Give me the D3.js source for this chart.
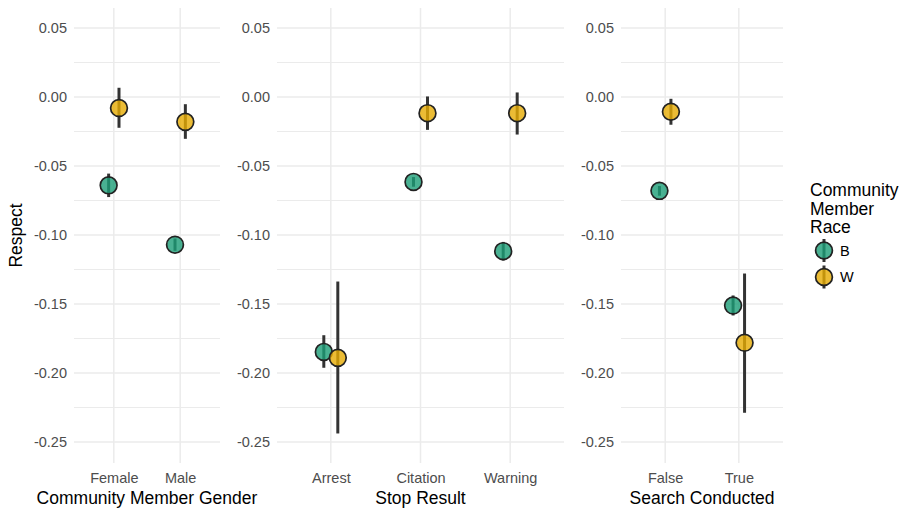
<!DOCTYPE html>
<html>
<head>
<meta charset="utf-8">
<script src="https://cdn.jsdelivr.net/npm/d3@7"></script>
<style>
  body { margin: 0; background: #fff; }
  svg { font-family: "Liberation Sans", Arial, sans-serif; }
</style>
</head>
<body>
<svg width="900" height="508"></svg>
<script>
// categories
const races = ["B", "W"];
const genderCats = ["Female", "Male"];
const stopCats = ["Arrest", "Citation", "Warning"];
const searchCats = ["False", "True"];
const yTicks = [0.05, 0.00, -0.05, -0.10, -0.15, -0.20, -0.25];
const yMinor = [0.025, -0.025, -0.075, -0.125, -0.175, -0.225];

// rows: [category, race, estimate, low, high]
const genderRows = [
  ["Female", "B", -0.064, -0.0725, -0.0555],
  ["Female", "W", -0.008, -0.0223, 0.0067],
  ["Male",   "B", -0.107, -0.1115, -0.1025],
  ["Male",   "W", -0.018, -0.0303, -0.0052]
];
const stopRows = [
  ["Arrest",   "B", -0.1847, -0.1962, -0.1726],
  ["Arrest",   "W", -0.189,  -0.2438, -0.1337],
  ["Citation", "B", -0.0615, -0.065,  -0.058],
  ["Citation", "W", -0.0117, -0.0238, 0.0004],
  ["Warning",  "B", -0.1117, -0.1185, -0.105],
  ["Warning",  "W", -0.0117, -0.0272, 0.0033]
];
const searchRows = [
  ["False", "B", -0.068,  -0.0715, -0.0645],
  ["False", "W", -0.0107, -0.0201, -0.0013],
  ["True",  "B", -0.1511, -0.1583, -0.1438],
  ["True",  "W", -0.1781, -0.2288, -0.1279]
];

const colors = {B: "#1b9e77", W: "#e6ab02"};

const svg = d3.select("svg");
const yTop = 8, yBottom = 463;
const tickFont = 14.5, titleFont = 17.5;

const y = d3.scaleLinear().domain([-0.2652, 0.0645]).range([yBottom, yTop]);

// panel layout
const panels = [
  {x0: 74,  x1: 220, cats: genderCats, rows: genderRows, title: "Community Member Gender"},
  {x0: 277, x1: 564, cats: stopCats,   rows: stopRows,   title: "Stop Result"},
  {x0: 621, x1: 783, cats: searchCats, rows: searchRows, title: "Search Conducted"}
];

panels.forEach(p => {
  const x = d3.scalePoint().domain(p.cats).range([p.x0, p.x1]).padding(0.6);
  const dodge = d3.scalePoint().domain(races).range([-0.078, 0.078]);
  const g = svg.append("g");

  // grid
  g.selectAll(".minor").data(yMinor).join("line")
    .attr("x1", p.x0).attr("x2", p.x1)
    .attr("y1", d => y(d)).attr("y2", d => y(d))
    .attr("stroke", "#ebebeb").attr("stroke-width", 1);
  g.selectAll(".major").data(yTicks).join("line")
    .attr("x1", p.x0).attr("x2", p.x1)
    .attr("y1", d => y(d)).attr("y2", d => y(d))
    .attr("stroke", "#ebebeb").attr("stroke-width", 1.5);
  g.selectAll(".vgrid").data(p.cats).join("line")
    .attr("x1", d => x(d)).attr("x2", d => x(d))
    .attr("y1", yTop).attr("y2", yBottom)
    .attr("stroke", "#ebebeb").attr("stroke-width", 1.5);

  // y axis
  const ya = g.append("g")
    .attr("transform", `translate(${p.x0 - 4},0)`)
    .call(d3.axisLeft(y).tickValues(yTicks).tickSize(0).tickFormat(d => d.toFixed(2)));
  ya.select(".domain").remove();
  ya.selectAll("text").attr("fill", "#4d4d4d").attr("font-size", tickFont)
    .attr("font-family", "Liberation Sans, Arial, sans-serif");

  // x axis
  const xa = g.append("g")
    .attr("transform", `translate(0,${yBottom})`)
    .call(d3.axisBottom(x).tickSize(0));
  xa.select(".domain").remove();
  xa.selectAll("text").attr("fill", "#4d4d4d").attr("font-size", tickFont)
    .attr("dy", null).attr("y", 19.5)
    .attr("font-family", "Liberation Sans, Arial, sans-serif");

  g.append("text")
    .attr("x", (p.x0 + p.x1) / 2).attr("y", 503.5)
    .attr("text-anchor", "middle").attr("font-size", titleFont).attr("fill", "#000")
    .text(p.title);

  const step = x.step();
  const px = d => x(d[0]) + dodge(d[1]) * step;

  g.selectAll(".err").data(p.rows).join("line")
    .attr("x1", px).attr("x2", px)
    .attr("y1", d => y(d[3])).attr("y2", d => y(d[4]))
    .attr("stroke", "#333").attr("stroke-width", 3);
  g.selectAll(".pt").data(p.rows).join("circle")
    .attr("cx", px).attr("cy", d => y(d[2])).attr("r", 8.4)
    .attr("fill", d => colors[d[1]]).attr("fill-opacity", 0.8)
    .attr("stroke", "#222").attr("stroke-width", 1.7);
});

// y title
svg.append("text")
  .attr("transform", `translate(22,${(yTop + yBottom) / 2}) rotate(-90)`)
  .attr("text-anchor", "middle").attr("font-size", titleFont).attr("fill", "#000")
  .text("Respect");

// legend
const legend = svg.append("g").attr("transform", "translate(810,0)");
["Community", "Member", "Race"].forEach((t, i) => {
  legend.append("text").attr("x", 0).attr("y", 196 + i * 18.5)
    .attr("font-size", titleFont).attr("fill", "#000").text(t);
});
const ly = d3.scalePoint().domain(races).range([250.5, 277]);
const keys = legend.selectAll(".key").data(races).join("g")
  .attr("transform", d => `translate(14,${ly(d)})`);
keys.append("line").attr("y1", -11.5).attr("y2", 11.5)
  .attr("stroke", "#333").attr("stroke-width", 3);
keys.append("circle").attr("r", 8.4)
  .attr("fill", d => colors[d]).attr("fill-opacity", 0.8)
  .attr("stroke", "#222").attr("stroke-width", 1.7);
keys.append("text").attr("x", 16).attr("dy", "0.36em")
  .attr("font-size", tickFont).attr("fill", "#000").text(d => d);
</script>
</body>
</html>
